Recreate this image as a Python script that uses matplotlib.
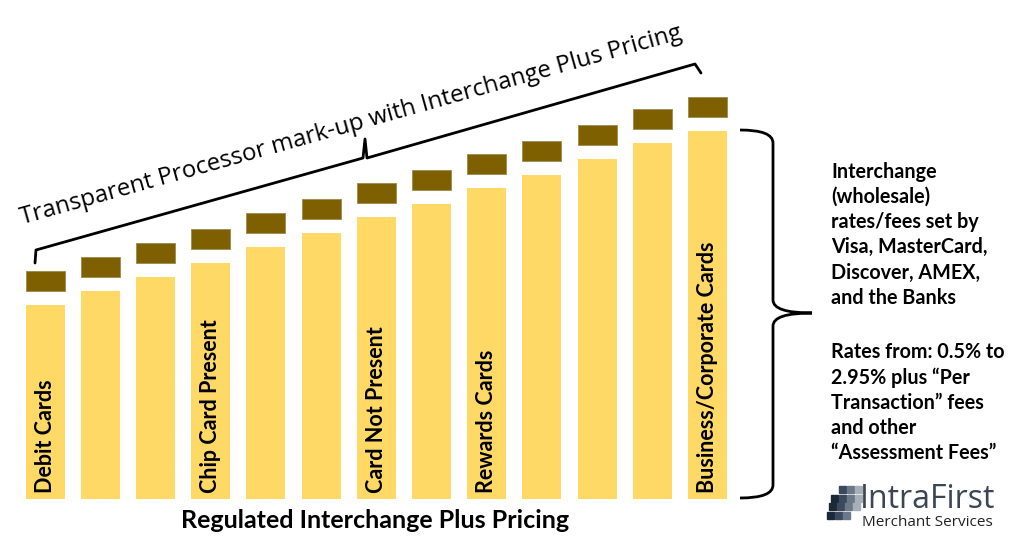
import numpy as np
import matplotlib
matplotlib.use("Agg")
import matplotlib.pyplot as plt
from matplotlib.path import Path
from matplotlib.patches import PathPatch, Rectangle

# -- data -----------------------------------------------------------------
# interchange part of each bar (baseline at 0) and the processor mark-up cap
interchange = [194, 208, 222, 236, 252, 266, 282, 295, 311, 324, 340, 356, 368]
markup = [20] * 13
cap_gap = 14
bar_labels = ["Debit Cards", "", "", "Chip Card Present", "", "",
              "Card Not Present", "", "Rewards Cards", "", "", "",
              "Business/Corporate Cards"]

top_title = "Transparent Processor mark-up with Interchange Plus Pricing"
bottom_title = "Regulated Interchange Plus Pricing"
side_note_1 = ["Interchange", "(wholesale)", "rates/fees set by",
               "Visa, MasterCard,", "Discover, AMEX,", "and the Banks"]
side_note_2 = ["Rates from: 0.5% to", "2.95% plus \u201cPer",
               "Transaction\u201d fees", "and other",
               "\u201cAssessment Fees\u201d"]

YELLOW = "#FFD966"
BROWN = "#7F6000"

fig = plt.figure(figsize=(10.24, 5.54), dpi=100)
ax = fig.add_axes([0, 0, 1, 1])
ax.set_xlim(0, 1024)
ax.set_ylim(-55, 499)
ax.axis("off")

x = 45 + 55.2 * np.arange(len(interchange))
ax.bar(x, interchange, width=39, color=YELLOW)
ax.bar(x, markup, bottom=np.array(interchange) + cap_gap, width=39,
       color=BROWN, edgecolor="#9c8a4a", linewidth=0.6)

for xi, lab in zip(x, bar_labels):
    if lab:
        ax.text(xi, 6, lab, rotation=90, ha="center", va="bottom",
                fontsize=15.5, fontweight="bold", family="Lato", color="black")

ax.text(375, -29, bottom_title, ha="center", va="baseline",
        fontsize=18, fontweight="bold", family="Lato")

# -- top brace along the caps --------------------------------------------
top_brace = Path(
    [(35, 236), (36, 249), (363, 341), (365, 360), (367, 341),
     (695, 435), (701, 426)],
    [Path.MOVETO] + [Path.LINETO] * 6)
ax.add_patch(PathPatch(top_brace, fill=False, lw=2, ec="black",
                       capstyle="round", joinstyle="round"))
ax.text(351, 373, top_title, rotation=15.7, rotation_mode="anchor",
        ha="center", va="center", fontsize=17.3, family="Open Sans")

# -- right curly brace ----------------------------------------------------
verts = [(740, 369), (773, 369), (773, 356),
         (773, 199),
         (773, 186), (812, 186),
         (773, 186), (773, 173),
         (773, 14),
         (773, 1), (740, 1)]
codes = [Path.MOVETO, Path.CURVE3, Path.CURVE3,
         Path.LINETO,
         Path.CURVE3, Path.CURVE3,
         Path.CURVE3, Path.CURVE3,
         Path.LINETO,
         Path.CURVE3, Path.CURVE3]
ax.add_patch(PathPatch(Path(verts, codes), fill=False, lw=2, ec="black"))

ax.text(831, 337, "\n".join(side_note_1), ha="left", va="top",
        fontsize=14.2, fontweight="bold", family="Lato", linespacing=1.32)
ax.text(831, 157, "\n".join(side_note_2), ha="left", va="top",
        fontsize=14.2, fontweight="bold", family="Lato", linespacing=1.32)

# -- logo -----------------------------------------------------------------
shades = ["#1b2838", "#3a4a5c", "#6b7887", "#a7afb8"]
for r in range(4):
    for c in range(4 - (r == 0) - (r == 3)):
        sx = 827 + c * 8 + (3 - r) * 2 + (6 if r == 0 else 0)
        sy = 499 - 486 - r * 8.5 - 7
        ax.add_patch(Rectangle((sx, sy), 7, 7, color=shades[min(c + (r == 0), 3)]))
ax.text(860, -9, "IntraFirst", ha="left", va="baseline", fontsize=23,
        family="Open Sans", color="#3b4654")
ax.text(862, -27, "Merchant Services", ha="left", va="baseline", fontsize=11,
        family="Open Sans", color="#222222")

fig.savefig("out.png", dpi=100)
